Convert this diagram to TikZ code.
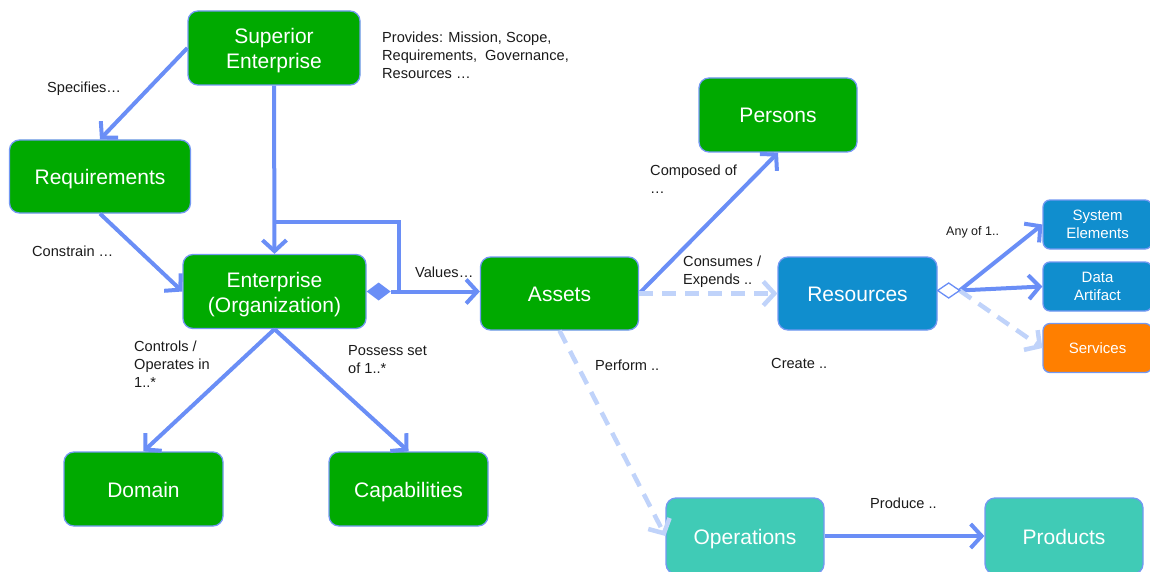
\documentclass[tikz,border=0pt]{standalone}
\usepackage{fontspec}
\setmainfont{Liberation Sans}
\usetikzlibrary{arrows.meta}
\definecolor{grn}{HTML}{00AA00}
\definecolor{bluebox}{HTML}{108ECE}
\definecolor{tealbox}{HTML}{40CBB6}
\definecolor{orangebox}{HTML}{FF7F00}
\definecolor{edgeblue}{HTML}{7398F2}
\definecolor{lineblue}{HTML}{6A8EF6}
\definecolor{lightblue}{HTML}{C0D3FA}
\definecolor{labeltext}{HTML}{1A1A1A}
\newcommand\boxstrut{\rule[-5pt]{0pt}{26pt}}
\begin{document}
\begin{tikzpicture}[x=1pt,y=-1pt,
  box/.style={draw=edgeblue, line width=1.3pt, rounded corners=10pt, text=white,
    font=\fontsize{21}{25}\selectfont, align=center, inner sep=0pt},
  bigbox/.style={box, minimum width=158pt, minimum height=73pt},
  smallbox/.style={box, font=\fontsize{15}{18}\selectfont, rounded corners=7pt,
    minimum width=109pt, minimum height=49pt},
  lbl/.style={font=\fontsize{14.6}{18}\selectfont, text=labeltext, align=left,
    inner sep=0pt, anchor=west},
  conn/.style={draw=lineblue, line width=4pt,
    -{Straight Barb[length=11pt,width=24pt]}},
  lightconn/.style={draw=lightblue, line width=4.5pt, dash pattern=on 14pt off 9pt,
    -{Straight Barb[length=11pt,width=24pt]}},
  plain/.style={draw=lineblue, line width=4pt},
]
\useasboundingbox (0,0) rectangle (1150,572);
\clip (0,0) rectangle (1150,572);

% nodes
\node[bigbox, fill=grn, minimum width=172pt, minimum height=74pt] (sup) at (274,48) {\rule{0pt}{21pt}Superior\\Enterprise};
\node[bigbox, fill=grn, minimum width=181pt] (req) at (100,176.5) {\boxstrut Requirements};
\node[bigbox, fill=grn, minimum width=183pt, minimum height=74pt] (ent) at (274.5,291.5) {\rule{0pt}{21pt}Enterprise\\(Organization)};
\node[bigbox, fill=grn] (assets) at (559.5,293.5) {\boxstrut Assets};
\node[bigbox, fill=grn, minimum height=74pt] (persons) at (778,115) {\boxstrut Persons};
\node[bigbox, fill=bluebox, minimum width=159pt] (res) at (857.5,293.5) {\boxstrut Resources};
\node[smallbox, fill=bluebox] (sys) at (1097.5,224.5) {System\\Elements};
\node[smallbox, fill=bluebox] (data) at (1097.5,286.5) {Data\\Artifact};
\node[smallbox, fill=orangebox] (serv) at (1097.5,348) {Services};
\node[bigbox, fill=grn, minimum width=159pt, minimum height=74pt] (dom) at (143.5,489) {\boxstrut Domain};
\node[bigbox, fill=grn, minimum width=159pt, minimum height=74pt] (cap) at (408.5,489) {\boxstrut Capabilities};
\node[bigbox, fill=tealbox, minimum height=76pt] (ops) at (745,536) {\boxstrut Operations};
\node[bigbox, fill=tealbox, minimum height=76pt] (prod) at (1064,536) {\boxstrut Products};

% labels
\node[lbl] (l1) at (47,88.5) {Specifies…};
\node[lbl] (l2) at (382,55) {Provides: Mission, Scope,\\Requirements,\ \ Governance,\\Resources …};
\node[lbl] (l3) at (32,251) {Constrain …};
\node[lbl] (l4) at (415,272) {Values…};
\node[lbl] (l5) at (134,364) {Controls /\\Operates in\\1..*};
\node[lbl] (l6) at (348,360) {Possess set\\of 1..*};
\node[lbl] (l7) at (650,179) {Composed of\\…};
\node[lbl] (l8) at (683,272) {Consumes /\\Expends ..};
\node[lbl] (l9) at (595,365) {Perform ..};
\node[lbl] (l10) at (771,363) {Create ..};
\node[lbl, font=\fontsize{12.5}{15}\selectfont] (l11) at (946,232) {Any of 1..};
\node[lbl] (l12) at (870,503) {Produce ..};

% connectors
\draw[conn] (sup.west) -- (req.north);
\draw[conn] (sup.south) -- (ent.north);
\draw[conn] (req.south) -- (ent.west);
\draw[conn] (ent.south) -- (dom.north);
\draw[conn] (ent.south) -- (cap.north);

% enterprise diamond + values
\coordinate (ed) at ([xshift=24pt]ent.east);
\coordinate (lp1) at (274,222);
\coordinate (lp2) at (399,291.5);
\draw[plain, line cap=butt] (lp1) -| (lp2);
\draw[conn] (ed) -- (ed -| assets.west);
\fill[lineblue] (ent.east) -- ++(12,-9) -- (ed) -- ++(-12,9) -- cycle;

\draw[conn] (assets.east) -- (persons.south);
\draw[lightconn] (assets.east) -- (res.west);
\draw[lightconn] (assets.south) -- (ops.west);
\draw[conn] (ops.east) -- (prod.west);

% resources diamond
\coordinate (rs) at ([yshift=3pt]res.east);
\coordinate (rd) at ([xshift=22pt,yshift=3pt]res.east);
\draw[conn] (rd) -- (sys.west);
\draw[conn] (rd) -- (data.west);
\draw[lightconn] (rd) -- (serv.west);
\filldraw[fill=white, draw=lineblue, line width=1.3pt] (rs) -- ++(11,-7.5) -- (rd) -- ++(-11,7.5) -- cycle;
\end{tikzpicture}
\end{document}
